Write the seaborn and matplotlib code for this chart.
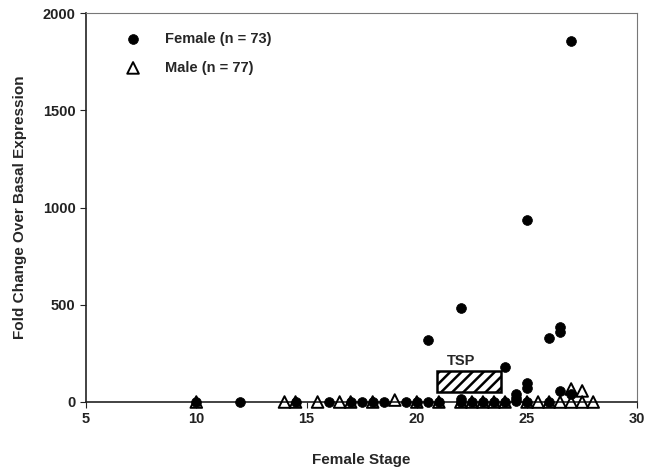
import matplotlib
matplotlib.use("Agg")
import matplotlib.pyplot as plt
import matplotlib.patches as mpatches
import pandas as pd
import seaborn as sns

# female stage vs fold change
female_stage = [10, 12, 14.5, 16, 17, 17.5, 18, 18.5, 19.5, 20, 20.5, 20.5, 21,
                22, 22, 22, 22.5, 23, 23.5, 24, 24, 24.5, 24.5, 24.5,
                25, 25, 25, 25, 26, 26, 26.5, 26.5, 26.5, 27, 27]
female_fold = [0, 0, 0, 0, 0, 0, 0, 0, 0, 0, 0, 318, 0,
               0, 15, 482, 0, 0, 0, 0, 180, 5, 20, 40,
               0, 72, 97, 938, 0, 330, 57, 360, 385, 40, 1856]

male_stage = [10, 14, 14.5, 15.5, 16.5, 17, 18, 19, 20, 21, 22, 22.5, 23, 23.5,
              24, 25, 25.5, 26, 26.5, 27, 27, 27.5, 27.5, 28]
male_fold = [0, 0, 0, 0, 0, 0, 0, 10, 0, 0, 0, 0, 0, 0,
             0, 0, 0, 0, 0, 0, 67, 0, 57, 0]

tsp_start, tsp_end = 20.9, 23.8
tsp_low, tsp_high = 50, 160

female = pd.DataFrame({"stage": female_stage, "fold": female_fold})
male = pd.DataFrame({"stage": male_stage, "fold": male_fold})

sns.set_style("ticks")
plt.rcParams["font.family"] = ["Liberation Sans", "DejaVu Sans"]
plt.rcParams["hatch.linewidth"] = 1.8

fig = plt.figure(figsize=(6.47, 4.71), dpi=100)
ax = fig.add_axes([0.133, 0.1465, 0.852, 0.8255])

sns.scatterplot(data=female, x="stage", y="fold", ax=ax, marker="o", s=50,
                color="black", edgecolor="black", linewidth=0.5,
                label="Female (n = 73)", clip_on=False, zorder=3)
sns.scatterplot(data=male, x="stage", y="fold", ax=ax, marker="^", s=70,
                facecolor="none", edgecolor="black", linewidth=1.4,
                label="Male (n = 77)", clip_on=False, zorder=4)

# TSP box
ax.add_patch(mpatches.Rectangle((tsp_start, tsp_low), tsp_end - tsp_start,
                                tsp_high - tsp_low, facecolor="white",
                                edgecolor="black", hatch="///", linewidth=1.8,
                                zorder=2))
ax.text(22.0, 212, "TSP", ha="center", va="center", fontsize=10.5,
        fontweight="bold")

ax.set_xlim(5, 30)
ax.set_ylim(0, 2000)
ax.set_xticks([5, 10, 15, 20, 25, 30])
ax.set_yticks([0, 500, 1000, 1500, 2000])
ax.tick_params(labelsize=10.5, length=4, width=0.8, colors="#222222")
for lab in ax.get_xticklabels() + ax.get_yticklabels():
    lab.set_fontweight("bold")

for side in ["left", "bottom"]:
    ax.spines[side].set_color("#222222")
    ax.spines[side].set_linewidth(1.2)
for side in ["top", "right"]:
    ax.spines[side].set_color("#777777")
    ax.spines[side].set_linewidth(0.8)

ax.set_xlabel("Female Stage", fontsize=11, fontweight="bold", labelpad=19)
ax.set_ylabel("Fold Change Over Basal Expression", fontsize=11,
              fontweight="bold", labelpad=11)

leg = ax.legend(loc="upper left", bbox_to_anchor=(0.035, 0.985), frameon=False,
                handletextpad=1.2, labelspacing=1.0, fontsize=10.5)
for t in leg.get_texts():
    t.set_fontweight("bold")

fig.savefig("out.png", dpi=100)
